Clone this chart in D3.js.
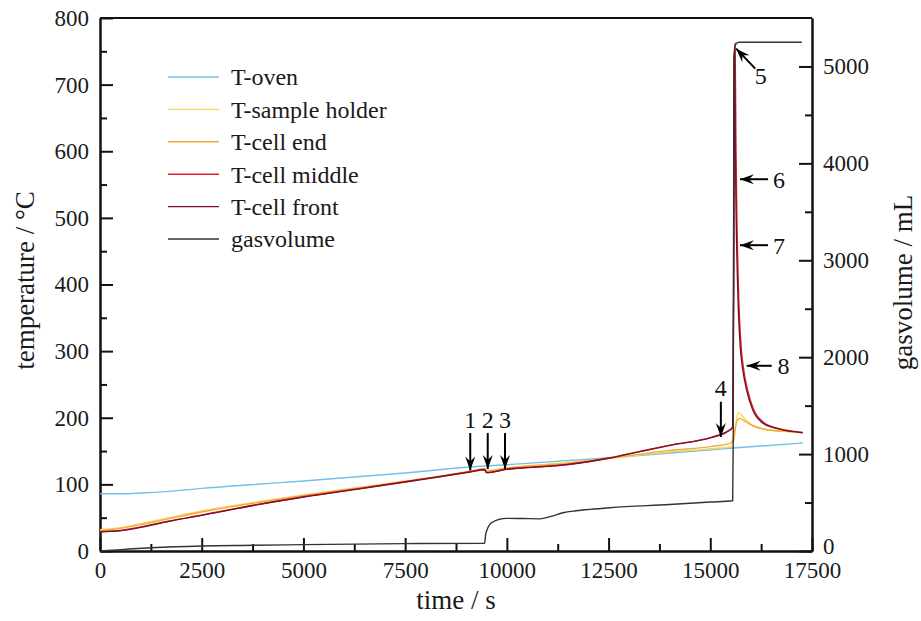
<!DOCTYPE html>
<html>
<head>
<meta charset="utf-8">
<script src="https://cdn.jsdelivr.net/npm/d3@7"></script>
<style>
  body { margin: 0; background: #fff; }
  svg text { font-family: 'Liberation Serif', 'DejaVu Serif', 'Times New Roman', serif; }
</style>
</head>
<body>
<script>
// size of the picture
var width = 921;
var height = 621;
var serif = "'Liberation Serif', 'DejaVu Serif', 'Times New Roman', serif";

// data: [time in s, value]
var oven = [[0,86],[500,86],[1000,87],[1700,89.5],[2500,94],[3700,99.5],[5000,105],[7500,117],[9095,126],[10000,129.5],[12535,140],[14010,147],[15560,154.6],[17270,162]];
var sampleHolder = [[0,32],[500,35],[1000,41],[1700,50],[2500,60],[3700,72],[5000,84],[6300,95],[7500,105],[8357,112.5],[9095,120],[9460,123.5],[9500,121],[10000,125],[11470,132.5],[12535,139],[14010,149],[15040,153.5],[15500,156.5],[15580,165],[15640,195],[15690,208],[15750,205],[15850,198],[16000,190],[16300,183],[16700,180],[17270,178]];
var cellEnd = [[0,31],[500,34],[1000,39.5],[1700,48.5],[2500,58.5],[3700,71],[5000,83],[6300,94],[7500,104.5],[8357,112],[9095,119.5],[9460,123],[9500,120],[10000,124.5],[11470,131.5],[12535,139.5],[14010,151],[15040,157],[15500,162],[15570,170],[15640,192],[15720,199],[15850,195],[16050,188],[16400,182],[17000,179],[17270,177.5]];
var cellMiddle = [[0,29],[500,31],[1000,36],[1700,45],[2500,54],[3700,68],[5000,81.5],[6300,93],[7500,104],[8357,112],[9095,119],[9460,122.5],[9490,118.5],[9520,118],[10000,123],[11000,127.5],[11470,130],[12535,140],[13300,150],[14010,159],[15040,171],[15400,179],[15550,186],[15578,400],[15598,740],[15610,762],[15632,600],[15654,500],[15700,380],[15760,305],[15812,276],[15912,243],[16060,213],[16310,193],[16600,185],[17000,180],[17270,178]];
var cellFront = [[0,29],[500,30.5],[1000,35.5],[1700,44.5],[2500,53.5],[3700,67.5],[5000,81],[6300,92.5],[7500,103.5],[8357,111.5],[9095,118.5],[9460,122],[9490,118],[9520,117.5],[10000,122.5],[11000,127],[11470,129.5],[12535,139.5],[13300,149.5],[14010,158.5],[15040,170.5],[15400,178.5],[15550,185.5],[15572,400],[15590,735],[15600,752],[15618,590],[15638,495],[15682,378],[15742,303],[15792,275],[15892,242],[16042,212],[16292,192],[16600,184.5],[17000,179.5],[17270,177.5]];
var gasvolume = [[0,0],[300,8],[700,20],[1270,34],[2500,52],[3810,59],[5000,66],[7500,76],[9455,80],[9475,160],[9512,217],[9580,272],[9666,302],[9800,325],[9996,337],[10400,335],[10815,332],[11060,354],[11380,395],[11700,415],[12044,430],[12535,447],[14000,480],[15000,505],[15550,519],[15565,1200],[15580,5100],[15620,5225],[15700,5250],[17250,5250]];

var seriesNames = ['T-oven', 'T-sample holder', 'T-cell end', 'T-cell middle', 'T-cell front', 'gasvolume'];
var seriesColors = ['#74bfe9', '#f7d65c', '#f2aa3a', '#dc2430', '#7c1226', '#333333'];

// ticks
var xMajor = [0, 2500, 5000, 7500, 10000, 12500, 15000, 17500];
var xMinor = [1250, 3750, 6250, 8750, 11250, 13750, 16250];
var yMajor = [0, 100, 200, 300, 400, 500, 600, 700, 800];
var yMinor = [50, 150, 250, 350, 450, 550, 650, 750];
var gMajor = [0, 1000, 2000, 3000, 4000, 5000];
var gMinor = [500, 1500, 2500, 3500, 4500];

// annotation arrows: tip, tail, label position as [time, temperature]
var arrowText = ['1', '2', '3', '4', '5', '6', '7', '8'];
var arrowTip = [[9100,121],[9530,123],[9955,123],[15260,171],[15637,754],[15730,558],[15730,459],[15895,278]];
var arrowTail = [[9100,177],[9530,177],[9955,177],[15260,224],[16104,724],[16420,558],[16420,459],[16510,278]];
var arrowLabel = [[9100,197],[9530,197],[9955,197],[15260,246],[16240,714],[16690,558],[16690,459],[16800,278]];

var padding = { top: 18, right: 109, bottom: 70, left: 100 };

var svg = d3.select('body')
  .append('svg')
  .attr('width', width)
  .attr('height', height)
  .style('display', 'block');

var xScale = d3.scaleLinear()
  .domain([0, 17500])
  .range([padding.left, width - padding.right]);

var yScale = d3.scaleLinear()
  .domain([0, 800])
  .range([height - padding.bottom, padding.top]);

var gScale = d3.scaleLinear()
  .domain([0, 5500])
  .range([height - padding.bottom, padding.top]);

function styleAxis(g) {
  g.attr('font-family', serif).attr('font-size', 23);
  g.selectAll('.domain').attr('stroke', '#111').attr('stroke-width', 2);
  g.selectAll('.tick line').attr('stroke', '#111').attr('stroke-width', 2);
  g.selectAll('.tick text').attr('fill', '#1a1a1a').style('font-family', serif).style('font-size', '23px');
}

// bottom axis
svg.append('g')
  .attr('transform', 'translate(0,' + (height - padding.bottom) + ')')
  .call(d3.axisBottom(xScale).tickValues(xMinor).tickSize(-7).tickSizeOuter(0).tickFormat(''))
  .call(styleAxis);
svg.append('g')
  .attr('class', 'xaxis')
  .attr('transform', 'translate(0,' + (height - padding.bottom) + ')')
  .call(d3.axisBottom(xScale).tickValues(xMajor).tickSize(-13).tickSizeOuter(0).tickPadding(11).tickFormat(d3.format('d')))
  .call(styleAxis);

// left axis
svg.append('g')
  .attr('transform', 'translate(' + padding.left + ',0)')
  .call(d3.axisLeft(yScale).tickValues(yMinor).tickSize(-7).tickSizeOuter(0).tickFormat(''))
  .call(styleAxis);
svg.append('g')
  .attr('class', 'yaxis')
  .attr('transform', 'translate(' + padding.left + ',0)')
  .call(d3.axisLeft(yScale).tickValues(yMajor).tickSize(-13).tickSizeOuter(0).tickPadding(11).tickFormat(d3.format('d')))
  .call(styleAxis);

// right axis
svg.append('g')
  .attr('transform', 'translate(' + (width - padding.right) + ',0)')
  .call(d3.axisRight(gScale).tickValues(gMinor).tickSize(-7).tickSizeOuter(0).tickFormat(''))
  .call(styleAxis);
svg.append('g')
  .attr('class', 'gaxis')
  .attr('transform', 'translate(' + (width - padding.right) + ',0)')
  .call(d3.axisRight(gScale).tickValues(gMajor).tickSize(-13).tickSizeOuter(0).tickPadding(11).tickFormat(d3.format('d')))
  .call(styleAxis);

// lift the right-hand zero a little so it clears 17500
svg.select('.gaxis').selectAll('.tick text')
  .filter(function (d) { return d === 0; })
  .attr('dy', '0.12em');

// top border
svg.append('line')
  .attr('x1', xScale(0)).attr('x2', xScale(17500))
  .attr('y1', yScale(800)).attr('y2', yScale(800))
  .attr('stroke', '#111').attr('stroke-width', 2);

// axis titles
svg.append('text')
  .attr('x', (padding.left + width - padding.right) / 2)
  .attr('y', 609)
  .attr('text-anchor', 'middle')
  .style('font-family', serif)
  .style('font-size', '27px')
  .attr('fill', '#1a1a1a')
  .text('time / s');

svg.append('text')
  .attr('transform', 'translate(34,' + ((padding.top + height - padding.bottom) / 2 - 4) + ') rotate(-90)')
  .attr('text-anchor', 'middle')
  .style('font-family', serif)
  .style('font-size', '27px')
  .attr('fill', '#1a1a1a')
  .text('temperature / °C');

svg.append('text')
  .attr('transform', 'translate(912,' + ((padding.top + height - padding.bottom) / 2 - 2) + ') rotate(-90)')
  .attr('text-anchor', 'middle')
  .style('font-family', serif)
  .style('font-size', '27px')
  .attr('fill', '#1a1a1a')
  .text('gasvolume / mL');

// curves
var tLine = d3.line()
  .x(function (d) { return xScale(d[0]); })
  .y(function (d) { return yScale(d[1]); })
  .curve(d3.curveMonotoneX);

var gLine = d3.line()
  .x(function (d) { return xScale(d[0]); })
  .y(function (d) { return gScale(d[1]); })
  .curve(d3.curveMonotoneX);

var tempSeries = [oven, sampleHolder, cellEnd, cellMiddle, cellFront];
svg.append('g')
  .selectAll('path')
  .data(tempSeries)
  .enter()
  .append('path')
  .attr('class', 'line-path')
  .attr('fill', 'none')
  .attr('stroke-width', 1.4)
  .attr('stroke', function (d, i) { return seriesColors[i]; })
  .attr('d', tLine);

svg.append('path')
  .attr('class', 'gas-path')
  .attr('fill', 'none')
  .attr('stroke-width', 1.4)
  .attr('stroke', seriesColors[5])
  .attr('d', gLine(gasvolume));

// legend
var legend = svg.append('g')
  .selectAll('g')
  .data(seriesNames)
  .enter()
  .append('g')
  .attr('transform', function (d, i) { return 'translate(168,' + (77 + i * 32.4) + ')'; });

legend.append('line')
  .attr('x1', 0).attr('x2', 51)
  .attr('stroke-width', 1.4)
  .attr('stroke', function (d, i) { return seriesColors[i]; });

legend.append('text')
  .attr('x', 63)
  .attr('dy', '0.35em')
  .style('font-family', serif)
  .style('font-size', '24px')
  .attr('fill', '#1a1a1a')
  .text(function (d) { return d; });

// arrows with numbers
var arrows = svg.append('g')
  .selectAll('g')
  .data(arrowText)
  .enter()
  .append('g');

arrows.append('line')
  .attr('x1', function (d, i) { return xScale(arrowTail[i][0]); })
  .attr('y1', function (d, i) { return yScale(arrowTail[i][1]); })
  .attr('x2', function (d, i) { return xScale(arrowTip[i][0]); })
  .attr('y2', function (d, i) { return yScale(arrowTip[i][1]); })
  .attr('stroke', '#000')
  .attr('stroke-width', 2);

arrows.append('path')
  .attr('fill', '#000')
  .attr('d', function (d, i) {
    var x1 = xScale(arrowTail[i][0]), y1 = yScale(arrowTail[i][1]);
    var x2 = xScale(arrowTip[i][0]), y2 = yScale(arrowTip[i][1]);
    var a = Math.atan2(y2 - y1, x2 - x1);
    var len = 14, w = 5, notch = 9;
    var bx = x2 - len * Math.cos(a), by = y2 - len * Math.sin(a);
    var nx = x2 - notch * Math.cos(a), ny = y2 - notch * Math.sin(a);
    var px = -Math.sin(a) * w, py = Math.cos(a) * w;
    return 'M' + x2 + ',' + y2 +
      'L' + (bx + px) + ',' + (by + py) +
      'L' + nx + ',' + ny +
      'L' + (bx - px) + ',' + (by - py) + 'Z';
  });

arrows.append('text')
  .attr('x', function (d, i) { return xScale(arrowLabel[i][0]); })
  .attr('y', function (d, i) { return yScale(arrowLabel[i][1]); })
  .attr('text-anchor', 'middle')
  .attr('dy', '0.35em')
  .style('font-family', serif)
  .style('font-size', '24px')
  .attr('fill', '#111')
  .text(function (d) { return d; });
</script>
</body>
</html>
